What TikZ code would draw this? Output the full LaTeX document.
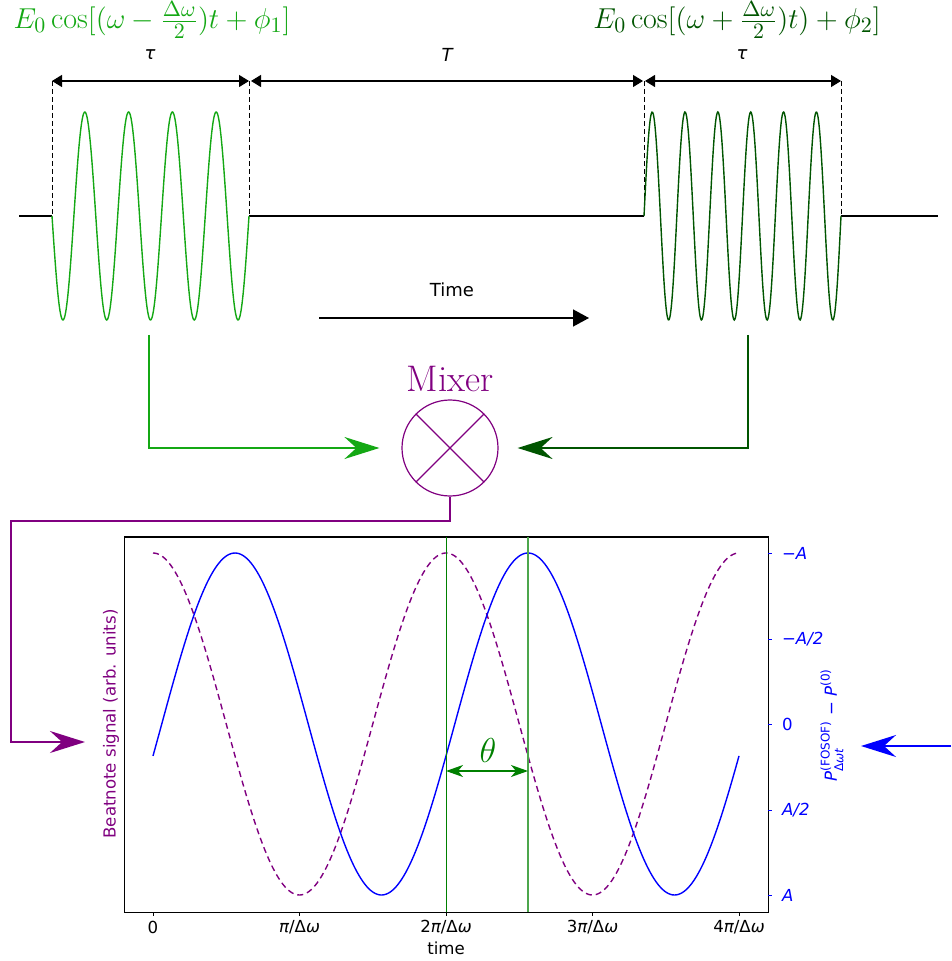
\documentclass[tikz,border=0pt]{standalone}
\usepackage{fontspec}
\newfontfamily\dv{DejaVu Sans}
\usetikzlibrary{arrows.meta}
\definecolor{lgreen}{RGB}{20,168,20}
\definecolor{dgreen}{RGB}{0,85,0}
\definecolor{mpurple}{RGB}{128,0,128}
\definecolor{mblue}{RGB}{0,0,255}
\definecolor{pgreen}{RGB}{0,128,0}
\tikzset{
  dimarrow/.style={line width=0.6pt,{Triangle[length=5pt,width=6pt]}-{Triangle[length=5pt,width=6pt]}},
  guide/.style={dashed,line width=0.5pt,dash pattern=on 2.5pt off 1.5pt},
  base/.style={line width=0.7pt},
  wave/.style={line width=0.7pt},
  conn/.style={line width=1pt,-{Stealth[length=17.5pt,width=11pt,inset=6pt]}},
  sanslab/.style={font=\dv\fontsize{9}{10}\selectfont,inner sep=1pt},
  ticklab/.style={font=\dv\fontsize{8.3}{9}\selectfont},
  formula/.style={font=\fontsize{15}{17}\selectfont,inner sep=0pt},
}
\begin{document}
\begin{tikzpicture}[x=0.5pt,y=-0.5pt]
\useasboundingbox (0,0) rectangle (951,961);
% formulas
\node[formula,text=lgreen] (f1) at (152,20) {$E_0\cos[(\omega-\frac{\Delta\omega}{2})t+\phi_1]$};
\node[formula,text=dgreen] (f2) at (737,20) {$E_0\cos[(\omega+\frac{\Delta\omega}{2})t)+\phi_2]$};
% dimension labels
\node[sanslab] (tau1) at (150,55) {\itshape τ};
\node[sanslab] (tT) at (447,55) {\itshape T};
\node[sanslab] (tau2) at (742,55) {\itshape τ};
% edge coordinates
\coordinate (a1) at (52,81); \coordinate (b1) at (249,81);
\coordinate (a2) at (644,81); \coordinate (b2) at (841,81);
\coordinate (a1b) at (52,216); \coordinate (b1b) at (249,216);
\coordinate (a2b) at (644,216); \coordinate (b2b) at (841,216);
\coordinate (l0) at (19,216); \coordinate (r0) at (938,216);
\draw[dimarrow] (a1) -- (b1);
\draw[dimarrow] ([xshift=1pt]b1) -- ([xshift=-0.5pt]a2);
\draw[dimarrow] ([xshift=0.5pt]a2) -- (b2);
\draw[guide] (a1) -- (a1b);
\draw[guide] (b1) -- (b1b);
\draw[guide] (a2) -- (a2b);
\draw[guide] (b2) -- (b2b);
% baseline
\draw[base] (l0) -- (a1b);
\draw[base] (b1b) -- (a2b);
\draw[base] (b2b) -- (r0);
% waves
\draw[wave,lgreen] plot[domain=52:249,samples=300,smooth] (\x,{216+104*sin(8.2229*(\x-52))});
\draw[wave,dgreen] plot[domain=644:841,samples=300,smooth] (\x,{216-104*sin(10.9645*(\x-644))});
% time arrow
\node[sanslab] (time) at (452,290) {Time};
\coordinate (t0) at (319,318); \coordinate (t1) at (589,318);
\draw[line width=0.7pt,-{Triangle[length=8pt,width=8.5pt]}] (t0) -- (t1);
% mixer
\node[draw=mpurple,line width=0.6pt,circle,minimum size=48pt,inner sep=0pt] (mix) at (450,448) {};
\draw[mpurple,line width=0.6pt] (mix.45) -- (mix.225);
\draw[mpurple,line width=0.6pt] (mix.135) -- (mix.315);
\node[text=mpurple,font=\fontsize{18.5}{20}\selectfont] (mixl) at (450,379) {Mixer};
% connectors
\coordinate (w1) at (149,335); \coordinate (w2) at (748,335);
\draw[conn,lgreen] (w1) |- ([xshift=-11pt]mix.west);
\draw[conn,dgreen] (w2) |- ([xshift=9.5pt]mix.east);
\coordinate (pk1) at (11,521); \coordinate (pk2) at (85,742);
\draw[conn,mpurple] (mix.south) |- (pk1) |- (pk2);
\coordinate (bs) at (951,746); \coordinate (be) at (861,746);
\draw[conn,mblue] (bs) -- (be);
% plot frame
\node[draw,line width=0.7pt,minimum width=321.9pt,minimum height=187.7pt,inner sep=0pt] (frame) at (446.3,724.6) {};
% curves
\begin{scope}
\clip (frame.south west) rectangle (frame.north east);
\draw[mpurple,line width=0.7pt,dash pattern=on 3pt off 2pt] plot[domain=153:739,samples=300,smooth] (\x,{724-171*cos(1.22867*(\x-153))});
\draw[mblue,line width=0.7pt] plot[domain=153:739,samples=300,smooth] (\x,{724-171*cos(1.22867*(\x-235))});
\end{scope}
% green lines
\coordinate (g1t) at (446,537); \coordinate (g1b) at (446,912);
\coordinate (g2t) at (528,537); \coordinate (g2b) at (528,912);
\draw[pgreen,line width=0.5pt] (g1t) -- (g1b);
\draw[pgreen!70!white,line width=0.6pt] (g2t) -- (g2b);
\coordinate (th1) at (446,771); \coordinate (th2) at (528,771);
\draw[pgreen,line width=0.7pt,{Stealth[length=8.5pt,width=6pt,inset=2.5pt]}-{Stealth[length=8.5pt,width=6pt,inset=2.5pt]}] (th1) -- (th2);
\node[text=pgreen,font=\fontsize{16}{18}\selectfont] (theta) at (488,750) {$\theta$};
% x ticks
\foreach \xx/\lab [count=\i] in {153/0,299.5/{{\itshape π}/Δ{\itshape ω}},446/{2{\itshape π}/Δ{\itshape ω}},592.5/{3{\itshape π}/Δ{\itshape ω}},739/{4{\itshape π}/Δ{\itshape ω}}}{
  \draw[line width=0.5pt] (\xx,912.3) -- (\xx,916);
  \node[ticklab] (xt\i) at (\xx,927) {\lab};
}
\node[ticklab] (xlab) at (446,948) {time};
% y ticks right
\foreach \yy/\lab [count=\i] in {553.3/{−\itshape A},639/{−\itshape A/2},724.3/0,810/{\itshape A/2},895.7/{\itshape A}}{
  \draw[mblue,line width=0.5pt] (768.3,\yy) -- (772,\yy);
  \node[ticklab,text=mblue,anchor=west] (yt\i) at (775,\yy) {\lab};
}
% axis labels
\node[ticklab,text=mpurple,rotate=90] (ylab) at (111,724) {Beatnote signal (arb. units)};
\node[text=mblue,rotate=90,font=\dv\fontsize{8.3}{9}\selectfont] (ylab2) at (832,725) {$\hbox{\dv\itshape P}^{\hbox{\dv\fontsize{6}{7}\selectfont (FOSOF)}}_{\hbox{\dv\fontsize{6}{7}\selectfont Δ\itshape ωt}}\hbox{\dv\ −\ }\hbox{\dv\itshape P}^{\hbox{\dv\fontsize{6}{7}\selectfont (0)}}$};
\end{tikzpicture}
\end{document}
